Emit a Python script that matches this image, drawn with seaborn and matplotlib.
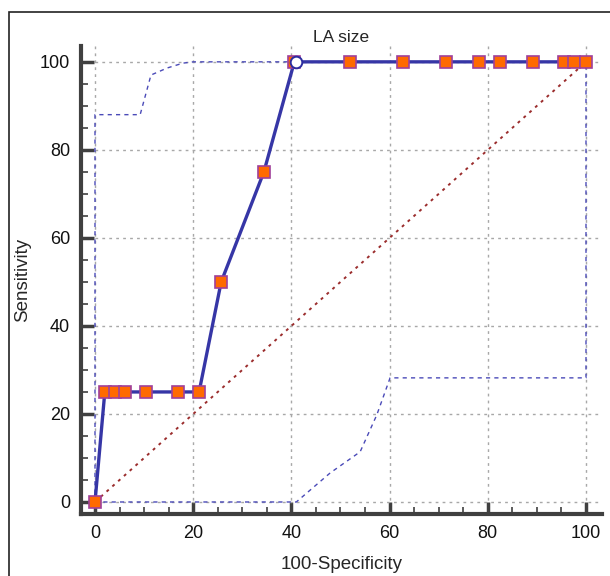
import matplotlib
matplotlib.use('Agg')
import matplotlib.pyplot as plt
import seaborn as sns
import pandas as pd
from matplotlib.patches import Rectangle
from matplotlib.ticker import MultipleLocator

# ROC points
fpr = [0, 2.0, 4.1, 6.2, 10.4, 17.0, 21.2, 25.7, 34.4, 40.6, 51.9, 62.7, 71.5, 78.2, 82.5, 89.2, 95.5, 97.5, 99.9]
tpr = [0, 25, 25, 25, 25, 25, 25, 50, 75, 100, 100, 100, 100, 100, 100, 100, 100, 100, 100]

# criterion point (open circle)
crit_x = [41.0]
crit_y = [100]

# confidence bounds
upper_x = [0, 0, 9.2, 11.4, 14.7, 17.9, 20, 41, 100]
upper_y = [0, 88, 88, 97, 98.6, 99.7, 100, 100, 100]
lower_x = [0, 41, 47.9, 54, 57.4, 60.1, 100, 100]
lower_y = [0, 0, 6.6, 11.4, 19.8, 28.2, 28.2, 100]

diag = [0, 100]

sns.set_theme(style='white')
plt.rcParams['font.family'] = ['Liberation Sans', 'DejaVu Sans']

fig = plt.figure(figsize=(6.1, 5.76), dpi=100)
ax = fig.add_axes([81 / 610, (576 - 514) / 576, 521 / 610, 468 / 576])

roc = pd.DataFrame({'fpr': fpr, 'tpr': tpr})
up = pd.DataFrame({'x': upper_x, 'y': upper_y})
lo = pd.DataFrame({'x': lower_x, 'y': lower_y})

ax.grid(True, color='#a8a8a8', linestyle=(0, (2, 3)), linewidth=1)
ax.set_axisbelow(True)

sns.lineplot(x=diag, y=diag, ax=ax, color='#9b2d2d', linestyle=(0, (1.5, 2.5)), linewidth=1.4)
sns.lineplot(data=up, x='x', y='y', ax=ax, sort=False, estimator=None,
             color='#4a4ab8', linestyle=(0, (3, 3)), linewidth=1)
sns.lineplot(data=lo, x='x', y='y', ax=ax, sort=False, estimator=None,
             color='#4a4ab8', linestyle=(0, (3, 3)), linewidth=1)
sns.lineplot(data=roc, x='fpr', y='tpr', ax=ax, sort=False, estimator=None,
             color='#3636a6', linewidth=2.4, marker='s', markersize=8.5,
             markerfacecolor='#ff6a00', markeredgecolor='#a0409a', markeredgewidth=1.2)
sns.scatterplot(x=crit_x, y=crit_y, ax=ax, s=70, color='white',
                edgecolor='#2c2ca0', linewidth=1.4, zorder=5)

ax.set_xlim(-2.85, 103.26)
ax.set_ylim(-2.73, 103.6)
ax.xaxis.set_major_locator(MultipleLocator(20))
ax.yaxis.set_major_locator(MultipleLocator(20))
ax.xaxis.set_minor_locator(MultipleLocator(5))
ax.yaxis.set_minor_locator(MultipleLocator(5))
ax.tick_params(which='major', direction='in', length=9, width=2.5, color='#404040',
               labelsize=13, labelcolor='#111111', pad=8, bottom=True, left=True)
ax.tick_params(which='minor', direction='in', length=5, width=1.2, color='#404040',
               bottom=True, left=True)

for side in ['top', 'right']:
    ax.spines[side].set_visible(False)
for side in ['left', 'bottom']:
    ax.spines[side].set_color('#404040')
    ax.spines[side].set_linewidth(3)

ax.set_title('LA size', fontsize=12.5, pad=3)
ax.set_xlabel('100-Specificity', fontsize=13.5, labelpad=10)
ax.set_ylabel('Sensitivity', fontsize=13.5, labelpad=6)

# outer frame around the picture
fig.patches.append(Rectangle((9 / 610, -0.1), 1.2, (576 - 12) / 576 + 0.1,
                             transform=fig.transFigure, fill=False,
                             edgecolor='#222222', linewidth=1.2))

fig.savefig('out.png', dpi=100)
